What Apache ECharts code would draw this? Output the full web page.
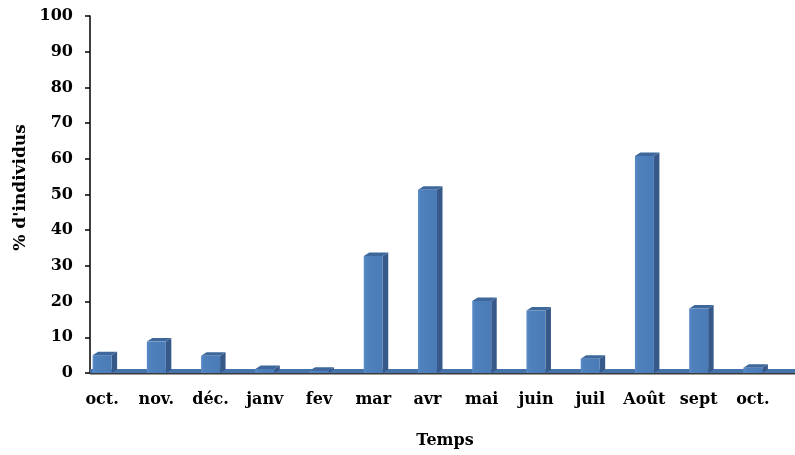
<!DOCTYPE html>
<html>
<head>
<meta charset="utf-8">
<script src="https://cdn.jsdelivr.net/npm/echarts@6/dist/echarts.min.js"></script>
<style>
  html, body { margin: 0; padding: 0; background: #fff; }
  #chart { width: 795px; height: 455px; }
</style>
</head>
<body>
<div id="chart"></div>
<script>
// Monthly share of individuals (%)
const categories = ['oct.', 'nov.', 'déc.', 'janv', 'fev', 'mar', 'avr', 'mai', 'juin', 'juil', 'Août', 'sept', 'oct.'];
const values = [5.0, 8.8, 4.8, 1.1, 0.6, 32.8, 51.3, 20.2, 17.5, 4.0, 60.8, 18.1, 1.5];
const yTicks = { min: 0, max: 100, interval: 10 };

const FONT = 'DejaVu Serif';
const DEPTH_X = 5.5;   // receding depth of the pseudo-3D columns
const DEPTH_Y = 3.5;
const BACK_SHIFT = 15; // back wall sits right of the front plane

const barData = values.map((v, i) => [i, v]);

function renderColumn(params, api) {
  const idx = api.value(0);
  const val = api.value(1);
  const top = api.coord([idx, val]);
  const base = api.coord([idx, 0]);
  const band = api.size([1, 0])[0];
  const w = band * 0.35;
  const x0 = top[0] - w / 2;
  const x1 = top[0] + w / 2;
  const yT = top[1];
  const yB = base[1];
  return {
    type: 'group',
    children: [
      {
        type: 'polygon',
        shape: { points: [[x1, yT], [x1 + DEPTH_X, yT - DEPTH_Y], [x1 + DEPTH_X, yB - DEPTH_Y], [x1, yB]] },
        style: { fill: '#36598A' }
      },
      {
        type: 'polygon',
        shape: { points: [[x0, yT], [x0 + DEPTH_X, yT - DEPTH_Y], [x1 + DEPTH_X, yT - DEPTH_Y], [x1, yT]] },
        style: { fill: '#3E679C' }
      },
      {
        type: 'rect',
        shape: { x: x0, y: yT, width: w, height: yB - yT },
        style: {
          fill: new echarts.graphic.LinearGradient(0, 0, 1, 0, [
            { offset: 0, color: '#5B8CC8' },
            { offset: 0.15, color: '#4F81BD' },
            { offset: 1, color: '#4A7BB7' }
          ])
        }
      }
    ]
  };
}

function renderFloor(params, api) {
  const cs = params.coordSys;
  const yB = api.coord([0, 0])[1];
  const xs = cs.x + BACK_SHIFT;
  const xe = cs.x + cs.width + BACK_SHIFT;
  return {
    type: 'group',
    children: [
      {
        type: 'rect',
        shape: { x: xs, y: yB - DEPTH_Y - 0.5, width: xe - xs, height: DEPTH_Y + 0.5 },
        style: { fill: '#4673AA' }
      },
      {
        type: 'line',
        shape: { x1: xs, y1: yB + 0.75, x2: xe, y2: yB + 0.75 },
        style: { stroke: '#3A3A3A', lineWidth: 1.5 }
      }
    ]
  };
}

const chart = echarts.init(document.getElementById('chart'), null, { renderer: 'canvas' });
chart.setOption({
  animation: false,
  backgroundColor: '#ffffff',
  grid: { left: 75, right: 15, top: 16, bottom: 82, containLabel: false },
  xAxis: {
    type: 'category',
    data: categories,
    boundaryGap: true,
    axisLine: { show: false },
    axisTick: { show: false },
    axisLabel: {
      interval: 0,
      margin: 19,
      color: '#000',
      fontFamily: FONT,
      fontWeight: 'bold',
      fontSize: 16
    },
    name: 'Temps',
    nameLocation: 'middle',
    nameGap: 60,
    nameTextStyle: {
      color: '#000',
      fontFamily: FONT,
      fontWeight: 'bold',
      fontSize: 16,
      padding: [0, 0, 0, 35]
    }
  },
  yAxis: {
    type: 'value',
    min: yTicks.min,
    max: yTicks.max,
    interval: yTicks.interval,
    offset: -BACK_SHIFT,
    splitLine: { show: false },
    axisLine: { show: true, lineStyle: { color: '#000', width: 1.5 } },
    axisTick: { show: true, inside: false, length: 5, lineStyle: { color: '#000', width: 1.5 } },
    axisLabel: {
      margin: 17,
      color: '#000',
      fontFamily: FONT,
      fontWeight: 'bold',
      fontSize: 16
    },
    name: "% d'individus",
    nameLocation: 'middle',
    nameGap: 57,
    nameRotate: 90,
    nameTextStyle: {
      color: '#000',
      fontFamily: FONT,
      fontWeight: 'bold',
      fontSize: 17,
      padding: [0, 0, 0, 14]
    }
  },
  series: [
    {
      type: 'custom',
      name: 'floor',
      renderItem: renderFloor,
      data: [[0, 0]],
      encode: { x: 0, y: 1 },
      silent: true,
      z: 1
    },
    {
      type: 'custom',
      name: '% individus',
      renderItem: renderColumn,
      data: barData,
      encode: { x: 0, y: 1 },
      z: 2
    }
  ]
});
</script>
</body>
</html>
